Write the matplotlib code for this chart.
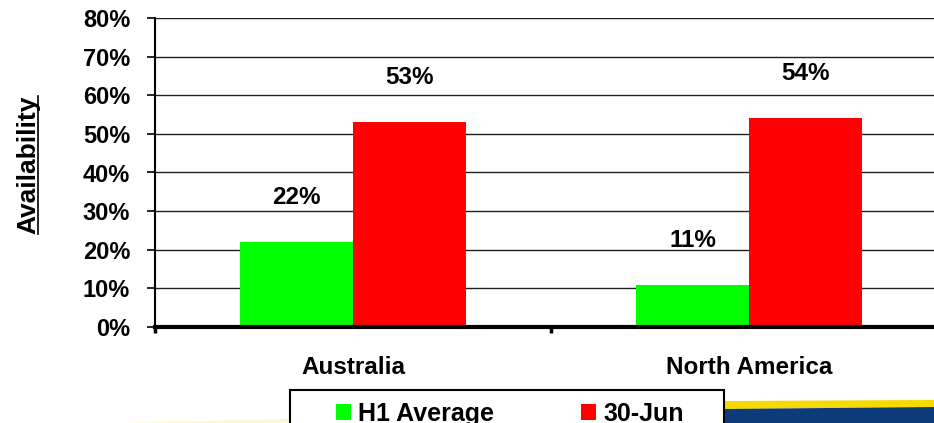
import numpy as np
import matplotlib
matplotlib.use("Agg")
import matplotlib.pyplot as plt
from matplotlib.patches import Patch, Rectangle, Polygon
from matplotlib.lines import Line2D

plt.rcParams['font.family'] = ['Liberation Sans', 'DejaVu Sans']
plt.rcParams['font.weight'] = 'bold'

# data
categories = ['Australia', 'North America']
h1_average = [22, 11]
jun_30 = [53, 54]
series_names = ['H1 Average', '30-Jun']
yticks = list(range(0, 90, 10))

green = '#00FF00'
red = '#FF0000'

W, H = 934, 423
fig = plt.figure(figsize=(W / 100, H / 100), dpi=100)
ax = fig.add_axes([155 / W, 96 / H, 792 / W, 309 / H])

x = np.arange(len(categories))
bw = 0.285
ax.bar(x - bw / 2, h1_average, bw, color=green, zorder=3)
ax.bar(x + bw / 2, jun_30, bw, color=red, zorder=3)

for xs, vals in [(x - bw / 2, h1_average), (x + bw / 2, jun_30)]:
    for xi, v in zip(xs, vals):
        ax.annotate(f'{v}%', (xi, v), xytext=(0, 32), textcoords='offset points',
                    ha='center', va='center', fontsize=17.5, fontweight='bold')

ax.set_xlim(-0.5, len(categories) - 0.5)
ax.set_ylim(0, 80)
ax.set_yticks(yticks)
ax.set_yticklabels([f'{v}%' for v in yticks], fontsize=17, fontweight='bold')
ax.tick_params(axis='y', direction='out', length=6, width=1.2, pad=12)

# category boundaries get the tick marks, centres get the labels
ax.set_xticks(np.arange(-0.5, len(categories), 1.0))
ax.set_xticklabels([])
ax.tick_params(axis='x', which='major', direction='out', length=4.5, width=2.5)
ax.set_xticks(x, minor=True)
ax.set_xticklabels(categories, minor=True, fontsize=17.5, fontweight='bold')
ax.tick_params(axis='x', which='minor', length=0, pad=21)

ax.yaxis.grid(True, color='#202020', lw=1.0, zorder=0)
ax.set_axisbelow(True)
for s in ['top', 'right']:
    ax.spines[s].set_visible(False)
ax.spines['left'].set_linewidth(1.5)
ax.spines['bottom'].set_linewidth(3)
ax.spines['bottom'].set_zorder(4)

# y axis title, underlined
ylab = fig.text(28 / W, 1 - 165 / H, 'Availability', rotation=90, ha='center',
                va='center', fontsize=19, fontweight='bold')

# decorative swoosh at the bottom
fig.add_artist(Polygon([(120 / W, 0), (290 / W, 4 / H), (290 / W, 0)],
                       closed=True, transform=fig.transFigure,
                       facecolor='#FAF3A0', edgecolor='none', alpha=0.5, zorder=1))
fig.add_artist(Polygon([(724 / W, 1 - 401 / H), (1, 1 - 400 / H), (1, 1 - 407 / H),
                        (724 / W, 1 - 409 / H)], closed=True, transform=fig.transFigure,
                       facecolor='#F7DA00', edgecolor='none', zorder=1))
fig.add_artist(Polygon([(724 / W, 1 - 409 / H), (1, 1 - 407 / H), (1, 0), (724 / W, 0)],
                       closed=True, transform=fig.transFigure,
                       facecolor='#0D3B7A', edgecolor='none', zorder=1))

# legend box running off the bottom edge
fig.add_artist(Rectangle((290 / W, -0.05), (724 - 290) / W, 0.05 + (423 - 390) / H,
                         transform=fig.transFigure, facecolor='white',
                         edgecolor='black', lw=1.5, zorder=2))
handles = [Patch(facecolor=green, edgecolor='none'), Patch(facecolor=red, edgecolor='none')]
fig.legend(handles, series_names, loc='upper left',
           bbox_to_anchor=(323 / W, 1 - 389 / H), ncol=2, frameon=False,
           borderpad=0, handlelength=0.6, handleheight=0.6, handletextpad=0.32,
           columnspacing=3.45, prop={'size': 18, 'weight': 'bold'})

fig.canvas.draw()
bb = ylab.get_window_extent()
ux = bb.x1 - 2.5
fig.add_artist(Line2D([ux / W, ux / W], [bb.y0 / H, bb.y1 / H], color='black',
                      lw=1.2, transform=fig.transFigure))

fig.savefig('out.png', dpi=100)
